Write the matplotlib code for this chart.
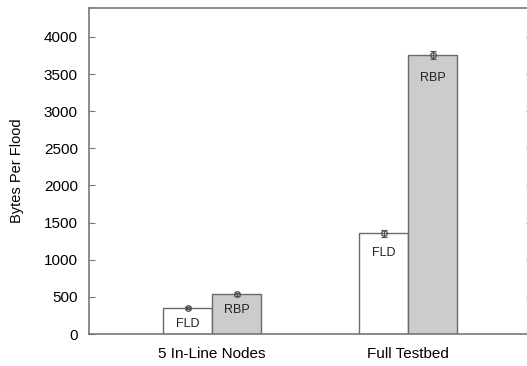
import matplotlib.pyplot as plt
import numpy as np

plt.rcParams['font.family'] = ['Liberation Sans', 'DejaVu Sans']

groups = ["5 In-Line Nodes", "Full Testbed"]
fld = [354, 1356]
rbp = [535, 3758]
fld_err = [15, 50]
rbp_err = [20, 50]
series_names = ["FLD", "RBP"]
# label offsets below bar top (points)
fld_label_off = [11.5, 14.5]
rbp_label_off = [11.5, 16.5]

edge = '#6a6a6a'
x = np.arange(1, len(groups) + 1)
w = 0.25

fig = plt.figure(figsize=(5.27, 3.66), dpi=100)
ax = fig.add_axes([89 / 527, 32 / 366, 443 / 527, 326 / 366])

ax.bar(x - w / 2, fld, width=w, color='white', edgecolor=edge, linewidth=1.0, zorder=2)
ax.bar(x + w / 2, rbp, width=w, color='#cccccc', edgecolor=edge, linewidth=1.0, zorder=2)
ax.errorbar(x - w / 2, fld, yerr=fld_err, fmt='o', ms=4, mfc='none', mec='#555555',
            ecolor='#555555', elinewidth=0.8, capsize=2, capthick=0.8, zorder=3)
ax.errorbar(x + w / 2, rbp, yerr=rbp_err, fmt='o', ms=4, mfc='none', mec='#555555',
            ecolor='#555555', elinewidth=0.8, capsize=2, capthick=0.8, zorder=3)

for xi, v, off in zip(x - w / 2, fld, fld_label_off):
    ax.annotate(series_names[0], (xi, v), xytext=(0, -off), textcoords='offset points',
                ha='center', va='center', fontsize=9, color='#222222')
for xi, v, off in zip(x + w / 2, rbp, rbp_label_off):
    ax.annotate(series_names[1], (xi, v), xytext=(0, -off), textcoords='offset points',
                ha='center', va='center', fontsize=9, color='#222222')

ax.set_xlim(0.372, 2.632)
ax.set_ylim(0, 4390)
ax.set_yticks(np.arange(0, 4001, 500))
ax.set_xticks(x)
ax.set_xticklabels(groups)
ax.set_ylabel("Bytes Per Flood", fontsize=10.5, labelpad=14)

for s in ax.spines.values():
    s.set_color('#777777')
    s.set_linewidth(1.2)
ax.tick_params(axis='y', direction='in', length=4, color='#777777', right=True,
               labelsize=11, pad=8)
ax.tick_params(axis='x', length=0, labelsize=11, pad=9)

fig.savefig("out.png", dpi=100)
